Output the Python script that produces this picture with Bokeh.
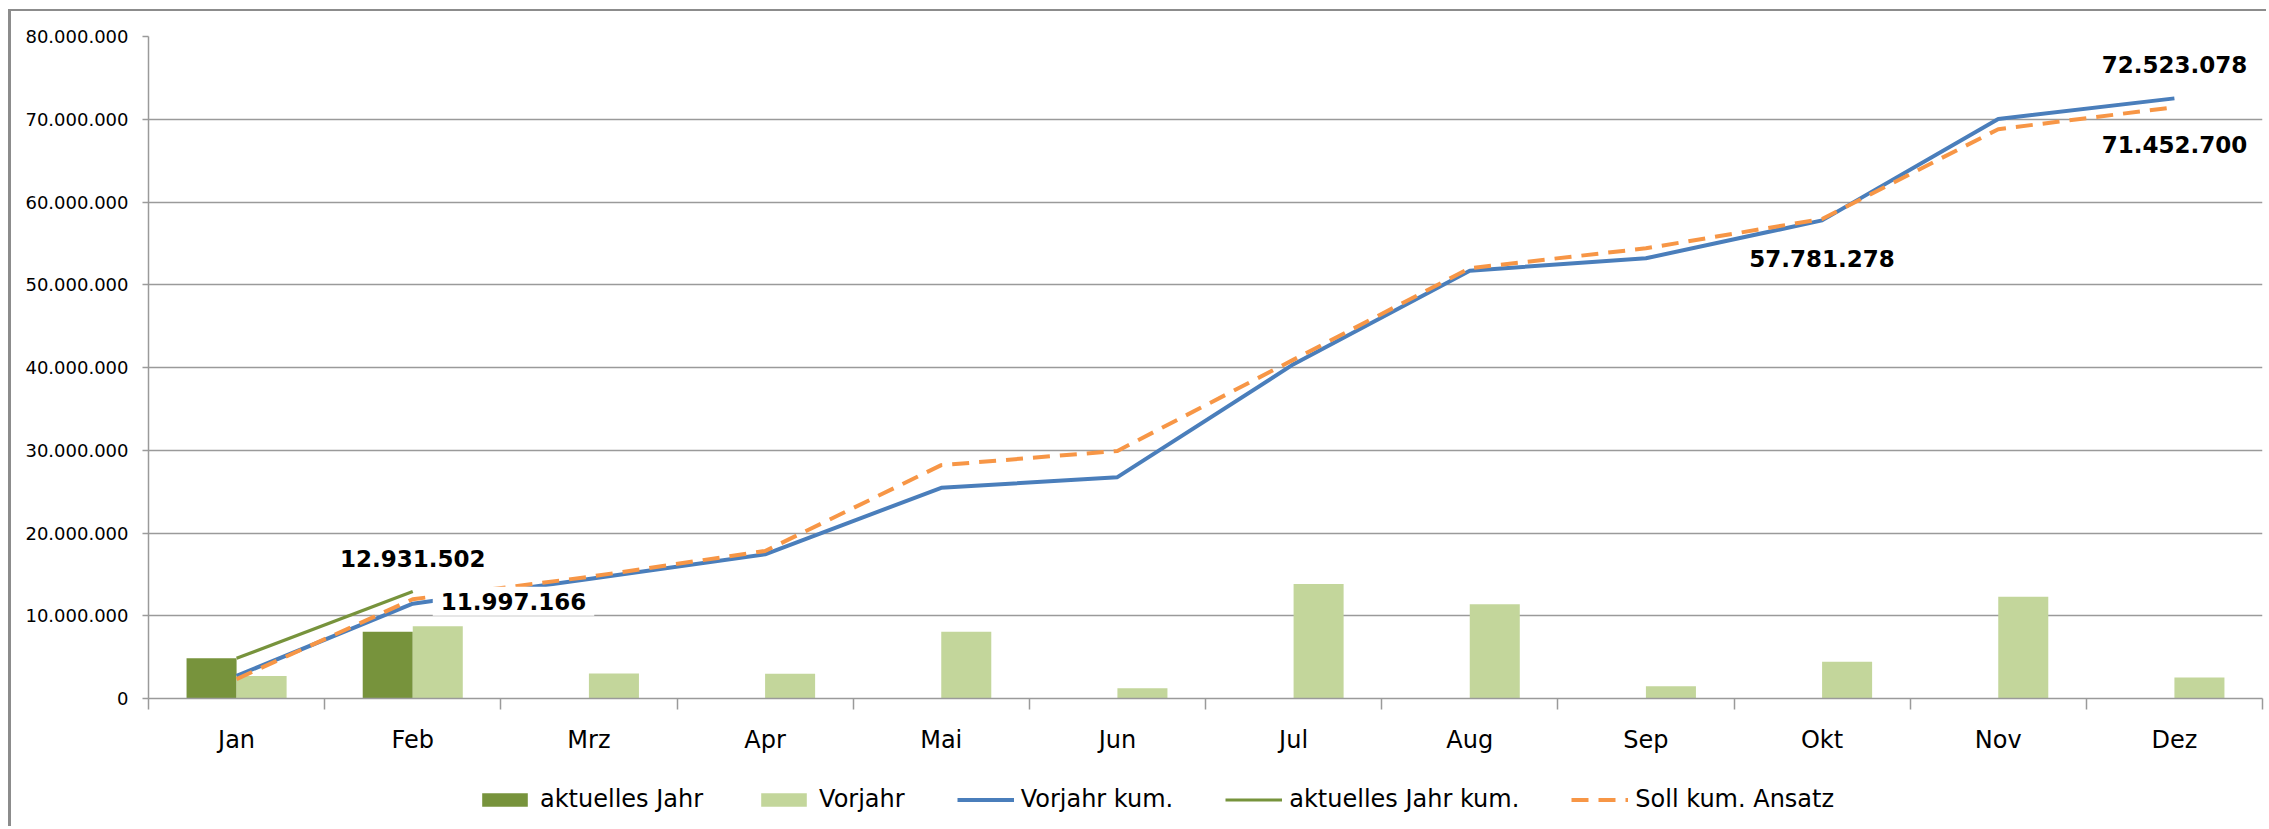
from bokeh.plotting import figure
from bokeh.models import (Range1d, FixedTicker, Legend, LegendItem, Label)
from bokeh.layouts import column
from bokeh.embed import file_html
from bokeh.resources import INLINE

# ---------------- data ----------------
months = ["Jan", "Feb", "Mrz", "Apr", "Mai", "Jun", "Jul", "Aug", "Sep", "Okt", "Nov", "Dez"]
aktuelles_jahr = [4850000, 8080000]  # Jan, Feb
vorjahr = [2730000, 8730000, 3020000, 3000000, 8070000, 1230000,
           13830000, 11390000, 1470000, 4450000, 12300000, 2540000]
vorjahr_kum = [2730000, 11460000, 14450000, 17430000, 25460000, 26750000,
               40400000, 51700000, 53200000, 57781278, 70030000, 72523078]
aktuelles_jahr_kum = [4850000, 12931502]
soll_kum = [2350000, 11997166, 14700000, 17830000, 28200000, 29920000,
            40950000, 52000000, 54400000, 57950000, 68800000, 71452700]
y_ticks = [0, 10000000, 20000000, 30000000, 40000000, 50000000, 60000000, 70000000, 80000000]
y_tick_labels = ["0", "10.000.000", "20.000.000", "30.000.000", "40.000.000",
                 "50.000.000", "60.000.000", "70.000.000", "80.000.000"]
series_names = ["aktuelles Jahr", "Vorjahr", "Vorjahr kum.", "aktuelles Jahr kum.", "Soll kum. Ansatz"]

# ---------------- styles ----------------
DARK = "#77933C"
LIGHT = "#C3D69B"
BLUE = "#4A7EBB"
ORANGE = "#F79646"
GRID = "#9A9A9A"
FONT = "DejaVu Sans"
DASH = "17 10"
NAN = float("nan")

n = len(months)
x_centers = [i + 0.5 for i in range(n)]
bar_w = 0.284

p = figure(width=2255, height=755, x_range=Range1d(0, n), y_range=Range1d(0, 80000000),
           output_backend="svg", toolbar_location=None,
           min_border_left=137, min_border_right=4, min_border_top=25, min_border_bottom=68)
p.outline_line_color = None
p.background_fill_color = "white"
p.border_fill_color = "white"

# y axis
p.yaxis.ticker = FixedTicker(ticks=y_ticks)
p.yaxis.major_label_overrides = {t: l for t, l in zip(y_ticks, y_tick_labels)}
p.yaxis.axis_line_color = GRID
p.yaxis.axis_line_width = 1.5
p.yaxis.major_tick_line_color = GRID
p.yaxis.major_tick_line_width = 1.5
p.yaxis.major_tick_out = 6
p.yaxis.major_tick_in = 0
p.yaxis.minor_tick_line_color = None
p.yaxis.major_label_standoff = 14
p.yaxis.major_label_text_font = FONT
p.yaxis.major_label_text_font_size = "18px"
p.yaxis.major_label_text_color = "black"

# x axis (labels at centers, ticks at boundaries)
p.xaxis.ticker = FixedTicker(ticks=x_centers, minor_ticks=list(range(n + 1)))
p.xaxis.major_label_overrides = {c: m for c, m in zip(x_centers, months)}
p.xaxis.axis_line_color = GRID
p.xaxis.axis_line_width = 1.5
p.xaxis.major_tick_line_color = None
p.xaxis.major_tick_out = 0
p.xaxis.major_tick_in = 0
p.xaxis.minor_tick_line_color = GRID
p.xaxis.minor_tick_line_width = 1.5
p.xaxis.minor_tick_out = 11
p.xaxis.minor_tick_in = 0
p.xaxis.major_label_standoff = 16
p.xaxis.major_label_text_font = FONT
p.xaxis.major_label_text_font_size = "24px"
p.xaxis.major_label_text_color = "black"

p.xgrid.visible = False
p.ygrid.ticker = FixedTicker(ticks=y_ticks)
p.ygrid.grid_line_color = GRID
p.ygrid.grid_line_width = 1.5

# bars
p.vbar(x=[c - bar_w / 2 for c in x_centers[:len(aktuelles_jahr)]], top=aktuelles_jahr,
       width=bar_w, bottom=0, fill_color=DARK, line_color=None)
p.vbar(x=[c + bar_w / 2 for c in x_centers], top=vorjahr,
       width=bar_w, bottom=0, fill_color=LIGHT, line_color=None)

# lines
p.line(x_centers, vorjahr_kum, line_color=BLUE, line_width=4, line_join="round")
p.line(x_centers[:len(aktuelles_jahr_kum)], aktuelles_jahr_kum, line_color=DARK,
       line_width=3.2, line_join="round")
p.line(x_centers, soll_kum, line_color=ORANGE, line_width=4, line_dash=DASH,
       line_join="round")

# data labels
def fmt(v):
    return f"{v:,.0f}".replace(",", ".")

label_specs = [
    (aktuelles_jahr_kum, 1, "center", 0, 33),
    (soll_kum, 1, "left", 20, -2),
    (vorjahr_kum, 9, "center", 0, -38),
    (vorjahr_kum, 11, "center", 0, 34),
    (soll_kum, 11, "center", 0, -37),
]
for series, i, align, dx, dy in label_specs:
    p.add_layout(Label(x=x_centers[i], y=series[i], text=fmt(series[i]),
                       x_offset=dx, y_offset=dy, text_align=align, text_baseline="middle",
                       text_font=FONT, text_font_style="bold", text_font_size="23px",
                       text_color="black", background_fill_color="white",
                       padding=(8, 6)))

# ---------------- legend strip below the chart ----------------
q = figure(width=2255, height=60, x_range=Range1d(0, 1), y_range=Range1d(0, 1),
           output_backend="svg", toolbar_location=None, min_border=0,
           x_axis_location=None, y_axis_location=None)
q.outline_line_color = None
q.grid.visible = False
q.background_fill_color = "white"
q.border_fill_color = "white"

# legend proxies (no visible data, only their styles are shown in the legend)
k_akt = q.vbar(x=[NAN], top=[NAN], width=0.1, fill_color=DARK, line_color=None)
k_vj = q.vbar(x=[NAN], top=[NAN], width=0.1, fill_color=LIGHT, line_color=None)
k_vjk = q.line(x=[NAN], y=[NAN], line_color=BLUE, line_width=4)
k_akk = q.line(x=[NAN], y=[NAN], line_color=DARK, line_width=3.2)
k_soll = q.line(x=[NAN], y=[NAN], line_color=ORANGE, line_width=4, line_dash=DASH)

legend = Legend(items=[
    LegendItem(label=series_names[0], renderers=[k_akt]),
    LegendItem(label=series_names[1], renderers=[k_vj]),
    LegendItem(label=series_names[2], renderers=[k_vjk]),
    LegendItem(label=series_names[3], renderers=[k_akk]),
    LegendItem(label=series_names[4], renderers=[k_soll]),
], orientation="horizontal", location=(328, 13), glyph_width=57, glyph_height=17,
    label_standoff=7, spacing=52, padding=0, margin=0, border_line_color=None,
    background_fill_alpha=0, label_text_font=FONT, label_text_font_size="24px",
    label_text_color="black", label_height=28)
q.add_layout(legend, "center")

layout = column(p, q, spacing=0,
                styles={"margin-left": "8px", "margin-top": "9px",
                        "border-left": "3px solid #8C8C8C", "border-top": "2px solid #8C8C8C"})

open("out.html", "w").write(file_html(layout, INLINE))
